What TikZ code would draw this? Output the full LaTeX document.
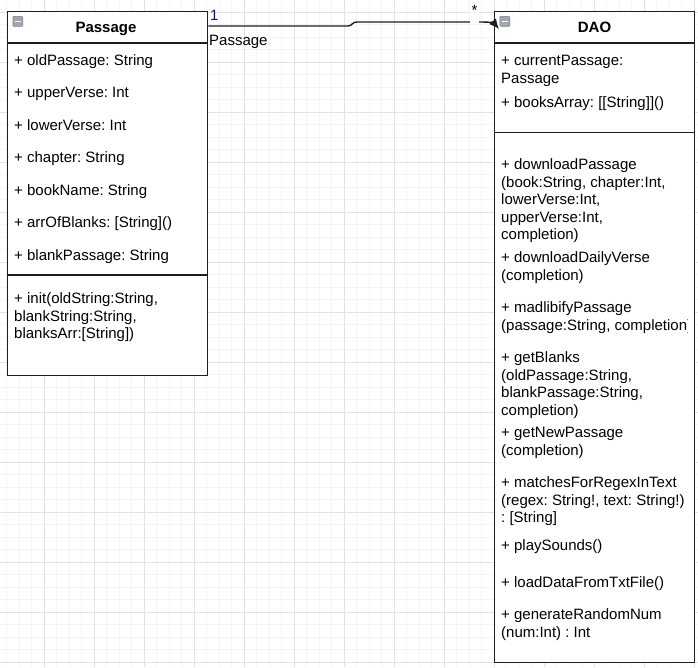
\documentclass[tikz,border=0pt]{standalone}
\usepackage{fontspec}
\setmainfont{Liberation Sans}
\usetikzlibrary{arrows.meta}
\frenchspacing

\definecolor{gridminor}{RGB}{244,244,244}
\definecolor{gridmajor}{RGB}{226,226,226}
\definecolor{umlline}{RGB}{30,30,30}
\definecolor{multcol}{RGB}{20,20,120}
\definecolor{iconfill}{RGB}{158,166,178}

\tikzset{
  classbox/.style={draw=umlline, fill=white, line width=1.4pt, inner sep=0pt, anchor=north west},
  divider/.style={draw=umlline, line width=1.4pt},
  member/.style={anchor=base west, inner sep=0pt, font=\fontsize{15}{17.5}\selectfont},
  classtitle/.style={anchor=base, inner sep=0pt, font=\fontsize{15}{17.5}\selectfont\bfseries},
  collapse/.style={draw=gray, fill=iconfill, rounded corners=1pt, line width=.6pt,
    minimum size=10pt, inner sep=0pt, anchor=north west},
}

\begin{document}
\begin{tikzpicture}[x=1pt,y=-1pt,>=Latex]

    \useasboundingbox (0,0) rectangle (698,667);
    \fill[white] (0,0) rectangle (698,667);

    % grid
    \foreach \g in {6.5,19,...,698} \draw[gridminor,line width=.8pt] (\g,0) -- (\g,667);
    \foreach \g in {12,24.5,...,667} \draw[gridminor,line width=.8pt] (0,\g) -- (698,\g);
    \foreach \g in {44,94,...,694} \draw[gridmajor,line width=.8pt] (\g,0) -- (\g,667);
    \foreach \g in {12,62,...,662} \draw[gridmajor,line width=.8pt] (0,\g) -- (698,\g);

    % Passage
    \node[classbox, minimum width=200pt, minimum height=364pt] (passage) at (7,11) {};
    \draw[divider] (7,43) -- (207,43);
    \draw[divider] (7,275) -- (207,275);
    \node[collapse] (passageicon) at (12.5,16) {};
    \draw[white,line width=1.4pt] ([xshift=2.5pt]passageicon.west) -- ([xshift=-2.5pt]passageicon.east);
    \node[classtitle] (passagetitle) at (106,32.5) {Passage};

    \foreach \y/\t [count=\i] in {65/{+ oldPassage: String}, 97.5/{+ upperVerse: Int},
        130/{+ lowerVerse: Int}, 162.5/{+ chapter: String}, 195/{+ bookName: String},
        227.5/{+ arrOfBlanks: [String]()}, 260/{+ blankPassage: String}}
        \node[member] (pattr\i) at (14,\y) {\t};

    \foreach \y/\t [count=\i] in {303.5/{+ init(oldString:String,}, 321/{blankString:String,},
        338.5/{blanksArr:[String])}}
        \node[member] (pmeth\i) at (14,\y) {\t};

    % DAO
    \node[classbox, minimum width=200pt, minimum height=651pt] (dao) at (494,11) {};
    \draw[divider] (494,43) -- (694,43);
    \draw[divider] (494,132.5) -- (694,132.5);
    \node[collapse] (daoicon) at (499.5,16) {};
    \draw[white,line width=1.4pt] ([xshift=2.5pt]daoicon.west) -- ([xshift=-2.5pt]daoicon.east);
    \node[classtitle] (daotitle) at (594.5,32.5) {DAO};

    \begin{scope}
    \clip (494,43) rectangle (687,662);
    \foreach \y/\t [count=\i] in {65.5/{+ currentPassage:}, 83/{Passage},
        107.5/{+ booksArray: [[String]]()}}
        \node[member] (dattr\i) at (501,\y) {\t};

    \foreach \y/\t [count=\i] in {169.5/{+ downloadPassage}, 187/{(book:String, chapter:Int,},
        204.5/{lowerVerse:Int,}, 222/{upperVerse:Int,}, 239.5/{completion)},
        262.5/{+ downloadDailyVerse}, 280/{(completion)},
        312.5/{+ madlibifyPassage}, 330/{(passage:String, completion)},
        362.5/{+ getBlanks}, 380/{(oldPassage:String,}, 397.5/{blankPassage:String,}, 415/{completion)},
        437.5/{+ getNewPassage}, 455/{(completion)},
        487.5/{+ matchesForRegexInText}, 505/{(regex: String!, text: String!)}, 522.5/{: [String]},
        550.5/{+ playSounds()},
        587.5/{+ loadDataFromTxtFile()},
        619.5/{+ generateRandomNum}, 637/{(num:Int) : Int}}
        \node[member] (dmeth\i) at (501,\y) {\t};
    \end{scope}

    % association
    \coordinate (tip) at ([xshift=5pt,yshift=-18pt]dao.north west);
    \draw[umlline,line width=1.4pt,-{Latex[length=10pt,width=9pt]}]
        ([yshift=-15pt]passage.north east) -- (348,26)
        .. controls (352,26) and (352,22) .. (357,22) -- (482,22)
        .. controls (489,22) and (494,23) .. (tip);
    \node[member, text=multcol] (multone) at (210,20) {1};
    \node[member] (rolename) at (209,45.5) {Passage};
    \node[member, anchor=base, fill=white, inner xsep=2pt, text depth=8pt] (multmany) at (474.5,15.5) {*};

\end{tikzpicture}
\end{document}
